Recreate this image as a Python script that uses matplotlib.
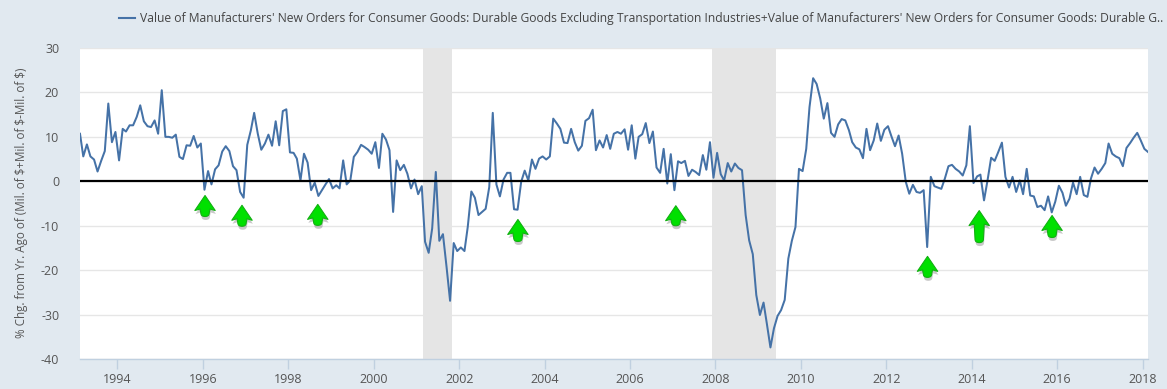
import matplotlib
matplotlib.use("Agg")
import matplotlib.pyplot as plt
import matplotlib.dates as mdates
import matplotlib.patheffects as pe
import numpy as np
import pandas as pd
from matplotlib.path import Path

W, H, DPI = 1167, 389, 100
plt.rcParams['font.family'] = ['Open Sans', 'DejaVu Sans']

START = '1993-02-15'
values = [
 10.7,5.6,8.3,5.6,4.9,2.2,4.6,6.8,17.5,8.8,11.1,4.7,11.8,11.2,12.6,12.6,14.5,17.1,13.5,12.4,
 12.2,13.7,10.7,20.5,10,10,9.8,10.5,5.5,5,8.1,8,10.2,7.6,8.5,-1.9,2.3,-.7,2.7,3.6,
 6.7,7.9,6.8,3.4,2.5,-2.4,-3.7,8.2,11.5,15.4,10.7,7.1,8.5,10.5,8,13.5,8.1,15.8,16.2,6.5,
 6.4,5.1,.2,6.2,4.2,-2,-.3,-3.3,-2,-.7,.5,-1.6,-.9,-1.6,4.7,-.7,.2,5.5,6.6,8.2,
 7.7,7.1,6.2,8.8,3,10.7,9.4,7,-6.9,4.7,2.5,3.7,1.7,-1.6,.4,-2.9,-1.1,-13.6,-16.1,-10.6,
 2.1,-13.4,-11.9,-19.3,-26.9,-13.9,-15.7,-14.9,-15.7,-10.3,-2.3,-3.7,-7.6,-6.9,-6.2,-1.3,15.4,-.7,-3.4,.4,
 1.9,1.9,-6.3,-6.4,-.1,2.4,.2,4.9,2.8,5.1,5.6,4.9,5.6,14.1,13,11.8,8.7,8.6,11.8,8.8,
 6.9,8,13.6,14.2,16.1,7,9.2,7.6,10.4,7.3,10.7,11.1,10.7,11.7,7.1,12.6,5.1,10,10.6,13.1,
 8.6,11.2,3.1,1.9,7.3,-.5,6.1,-2,4.5,4.1,4.6,1.2,2.6,2.1,1.4,5.9,2.6,8.8,.8,6.4,
 1.6,.2,4.1,2.2,4,3,2.5,-7.6,-13.3,-16.4,-25.6,-30.1,-27.3,-32,-37.4,-33.1,-30.3,-29,-26.7,-17.4,
 -13.4,-10.3,2.8,2.3,7.3,16.7,23.2,21.9,18.6,14.1,17.6,10.9,10,12.8,14,13.7,11.5,8.8,7.6,7.2,
 5.2,11.8,7,9.2,13,9.1,11.6,12.4,10,7.9,10.3,6.2,-.1,-2.8,-.8,-2.4,-2.6,-2,-14.8,1,
 -1.1,-1.4,-1.7,.6,3.4,3.7,2.8,2.2,1.3,3.6,12.4,-.4,1.1,1.5,-4.3,.2,5.3,4.6,6.6,8.7,
 1,-1.4,1,-2.4,.2,-2.9,2.8,-3.2,-3.4,-5.8,-5.5,-6.5,-3.4,-7,-4.6,-1,-2.6,-5.5,-3.9,-.3,
 -2.9,1,-3.1,-3.5,.6,3.1,1.7,2.8,4.1,8.5,6.2,5.6,5.2,3.4,7.5,8.6,9.8,10.9,9.2,7.3,
 6.6,
]
recession_start = ['2001-03-01', '2007-12-01']
recession_end = ['2001-11-01', '2009-06-01']
y_ticks = [30, 20, 10, 0, -10, -20, -30, -40]
x_tick_years = [1994, 1996, 1998, 2000, 2002, 2004, 2006, 2008, 2010, 2012, 2014, 2016, 2018]
arrow_dates = ['1996-01-20', '1996-12-01', '1998-09-10', '2003-05-18',
               '2007-01-27', '2012-12-18', '2014-03-05', '2015-11-18']
arrow_tips = [-3.2, -5.4, -5.2, -8.6, -5.5, -16.9, -6.6, -7.7]
arrow_tail_px = [21, 21, 21, 22, 20, 21, 32, 22]

legend_label = ("Value of Manufacturers' New Orders for Consumer Goods: Durable Goods Excluding "
                "Transportation Industries+Value of Manufacturers' New Orders for Consumer Goods: Durable G..")
y_label = "% Chg. from Yr. Ago of (Mil. of $+Mil. of $-Mil. of $)"

BG, INK, LINE = '#e1e9f0', '#555555', '#4572a7'

dates = pd.date_range(START, periods=len(values), freq=pd.DateOffset(months=1))
fig = plt.figure(figsize=(W / DPI, H / DPI), dpi=DPI, facecolor=BG)
L, R, T, B = 80, 1148, 48, 359
ax = fig.add_axes([L / W, 1 - B / H, (R - L) / W, (B - T) / H], facecolor='white')

for s, e in zip(recession_start, recession_end):
    ax.axvspan(pd.Timestamp(s), pd.Timestamp(e), color='#e5e5e5', lw=0, zorder=1)
ax.set_axisbelow(True)
ax.grid(axis='y', color='#e6e6e6', lw=1, zorder=0)
ax.axhline(0, color='black', lw=1.6, zorder=3)
ax.plot(dates, values, color=LINE, lw=1.45, zorder=2, solid_joinstyle='round')
ax.set_xlim(dates[0], dates[-1])
ax.set_ylim(-40, 30)
ax.set_yticks(y_ticks)
ax.set_yticklabels([str(v) for v in y_ticks], color=INK, fontsize=9)
ax.set_xticks([pd.Timestamp(f'{y}-01-01') for y in x_tick_years])
ax.set_xticklabels([str(y) for y in x_tick_years], color=INK, fontsize=9)
ax.tick_params(axis='y', length=0, pad=15)
ax.tick_params(axis='x', length=7, width=1, color='#c0d0e0', pad=3)
for s in ('top', 'left', 'right'):
    ax.spines[s].set_visible(False)
ax.spines['bottom'].set_color('#c0d0e0')
ax.spines['bottom'].set_linewidth(1)
fig.text(22 / W, 1 - 203 / H, y_label, rotation=90, ha='center', va='center', color=INK, fontsize=8.4)

def arrow_marker(tail):
    # pixel outline below the tip, y grows upward; tail is the full height
    hw, hh, sw = 10.2, 15, 4.2
    c = 3.5
    verts = [(0, 0), (hw, -hh), (sw + .8, -hh + 1.5), (sw, -tail + c), (sw, -tail), (0, -tail), (-sw, -tail),
             (-sw, -tail + c), (-sw - .8, -hh + 1.5), (-hw, -hh), (0, 0), (0, 0)]
    codes = [Path.MOVETO, Path.LINETO, Path.LINETO, Path.LINETO, Path.CURVE3, Path.CURVE3, Path.CURVE3, Path.CURVE3,
             Path.LINETO, Path.LINETO, Path.LINETO, Path.CLOSEPOLY]
    v = np.array(verts, float)
    v[:, 1] += tail / 2       # centre vertically so that the marker keeps a known scale
    return Path(v, codes), tail / 2

for d, tip, tail in zip(arrow_dates, arrow_tips, arrow_tail_px):
    mk, half = arrow_marker(tail)
    scale = 2 * np.abs(mk.vertices).max() * 72 / DPI
    px_per_unit = (B - T) / 70
    y = tip - half / px_per_unit
    ax.plot([pd.Timestamp(d)], [y], marker=mk, markersize=scale, markerfacecolor='#00e000',
            markeredgecolor='#12b012', markeredgewidth=0.8, linestyle='none', zorder=5,
            path_effects=[pe.SimplePatchShadow(offset=(0.5, -2.5), shadow_rgbFace='#666666', alpha=0.35), pe.Normal()])

# legend
fig.add_artist(plt.Line2D([119 / W, 135 / W], [1 - 18 / H] * 2, color=LINE, lw=1.5))
fig.text(140 / W, 1 - 18.5 / H, legend_label, ha='left', va='center', color='#444444', fontsize=8.7)

fig.savefig('out.png', dpi=DPI, facecolor=BG)
